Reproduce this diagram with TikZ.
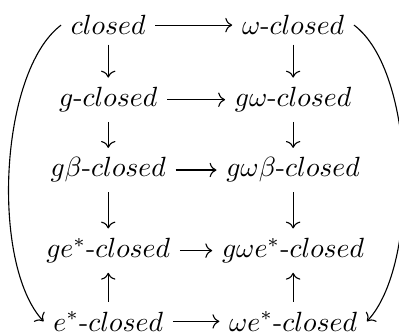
\documentclass[tikz,border=0pt]{standalone}
\usetikzlibrary{arrows.meta}
\begin{document}
\begin{tikzpicture}[
  cls/.style={anchor=base, inner sep=3.33pt},
  imp/.style={-{Computer Modern Rightarrow}, thin},
  bendimp/.style={-{Computer Modern Rightarrow}, thin, looseness=0.67}
]
  \useasboundingbox (0,0) rectangle (5.05,4.25);

  % Left column
  \node[cls] (cl) at (1.37,3.81) {$closed$};
  \node[cls] (gcl) at (1.37,2.90) {$g$-$closed$};
  \node[cls] (gbcl) at (1.37,2.01) {$g\beta$-$closed$};
  \node[cls] (gecl) at (1.37,0.99) {$ge^*$-$closed$};
  \node[cls] (ecl) at (1.37,0.06) {$e^*$-$closed$};

  % Right column
  \node[cls] (wcl) at (3.71,3.81) {$\omega$-$closed$};
  \node[cls] (gwcl) at (3.71,2.90) {$g\omega$-$closed$};
  \node[cls] (gwbcl) at (3.71,2.01) {$g\omega\beta$-$closed$};
  \node[cls] (gwecl) at (3.71,0.99) {$g\omega e^*$-$closed$};
  \node[cls] (wecl) at (3.71,0.06) {$\omega e^*$-$closed$};

  % Horizontal arrows
  \draw[imp] (cl) -- (wcl);
  \draw[imp] (gcl) -- (gwcl);
  \draw[imp] (gbcl) -- (gwbcl);
  \draw[imp] (gecl) -- (gwecl);
  \draw[imp] (ecl) -- (wecl);

  % Vertical arrows
  \draw[imp] (cl) -- (gcl);
  \draw[imp] (gcl) -- (gbcl);
  \draw[imp] (gbcl) -- (gecl);
  \draw[imp] (ecl) -- (gecl);
  \draw[imp] (wcl) -- (gwcl);
  \draw[imp] (gwcl) -- (gwbcl);
  \draw[imp] (gwbcl) -- (gwecl);
  \draw[imp] (wecl) -- (gwecl);

  % Curved arrows
  \draw[bendimp] (cl.west) to[out=217, in=133] (ecl.west);
  \draw[bendimp] (wcl.east) to[out=-37, in=47] (wecl.east);
\end{tikzpicture}
\end{document}
